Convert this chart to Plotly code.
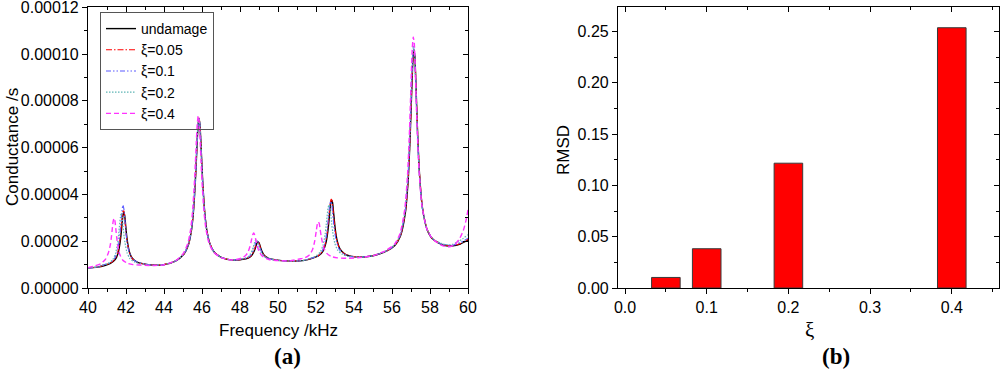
import plotly.graph_objects as go

# ---------------- data (conductance in micro-siemens, converted below) ----------------
UNIT = 1e-6

undamage = [
    (40.0, 8.6), (40.5, 8.9), (40.88, 9.6), (41.18, 10.5), (41.43, 12.1), (41.58, 14.8), (41.68, 19.0),
    (41.73, 22.2), (41.78, 26.4), (41.83, 30.5), (41.88, 32.6), (41.93, 31.0), (41.98, 26.9), (42.03, 22.7),
    (42.08, 19.5), (42.18, 15.4), (42.33, 12.7), (42.58, 11.1), (42.88, 10.4), (43.4, 9.8), (44.0, 10.0),
    (44.6, 11.5), (45.04, 14.4), (45.29, 18.6), (45.44, 24.4), (45.54, 31.7), (45.64, 44.0), (45.69, 52.3),
    (45.74, 61.4), (45.79, 69.0), (45.84, 72.5), (45.89, 70.0), (45.94, 62.4), (45.99, 53.3), (46.04, 45.0),
    (46.14, 32.7), (46.24, 25.4), (46.39, 19.6), (46.64, 15.4), (47.04, 13.0), (47.64, 11.9),
    (48.15, 12.3), (48.4, 12.7), (48.55, 13.4), (48.65, 14.3), (48.75, 15.8), (48.8, 16.9), (48.85, 18.2),
    (48.9, 19.3), (48.95, 19.8), (49.0, 19.3), (49.05, 18.2), (49.1, 16.9), (49.15, 15.8), (49.25, 14.3),
    (49.35, 13.4), (49.5, 12.7), (49.75, 12.2), (50.2, 11.7), (50.8, 11.5), (51.4, 11.8),
    (51.82, 12.8), (52.12, 13.7), (52.37, 15.8), (52.52, 19.2), (52.62, 24.0), (52.67, 27.7), (52.72, 31.9),
    (52.77, 35.8), (52.82, 37.6), (52.87, 36.6), (52.92, 32.7), (52.97, 28.5), (53.02, 24.8), (53.12, 20.0),
    (53.27, 16.6), (53.52, 14.5), (53.82, 13.6), (54.3, 13.2), (55.0, 13.8),
    (55.65, 15.5), (56.15, 18.2), (56.45, 22.3), (56.7, 32.0), (56.85, 46.0), (56.95, 63.7), (57.0, 75.2),
    (57.05, 87.2), (57.1, 97.1), (57.15, 101.5), (57.2, 99.1), (57.25, 89.2), (57.3, 77.2), (57.35, 65.7),
    (57.45, 48.5), (57.6, 34.4), (57.85, 24.9), (58.15, 20.8), (58.65, 18.5), (59.2, 18.0), (59.6, 18.8),
    (60.0, 20.5),
]

xi_005 = [
    (40.0, 8.6), (40.5, 8.9), (40.86, 9.9), (41.16, 10.6), (41.41, 12.3), (41.56, 15.1), (41.66, 19.4),
    (41.71, 22.8), (41.76, 27.1), (41.81, 31.4), (41.86, 33.5), (41.91, 31.7), (41.96, 27.6), (42.01, 23.3),
    (42.06, 19.9), (42.16, 15.7), (42.31, 12.8), (42.56, 11.1), (42.86, 10.4), (43.4, 9.8), (44.0, 10.0),
    (44.6, 11.5), (45.04, 14.4), (45.29, 18.6), (45.44, 24.4), (45.54, 31.8), (45.64, 44.2), (45.69, 52.5),
    (45.74, 61.6), (45.79, 69.2), (45.84, 72.7), (45.89, 70.1), (45.94, 62.5), (45.99, 53.4), (46.04, 45.0),
    (46.14, 32.7), (46.24, 25.4), (46.39, 19.6), (46.64, 15.4), (47.04, 13.0), (47.64, 11.9),
    (48.13, 12.3), (48.38, 12.8), (48.53, 13.4), (48.63, 14.3), (48.73, 15.9), (48.78, 17.0), (48.83, 18.4),
    (48.88, 19.5), (48.93, 20.0), (48.98, 19.5), (49.03, 18.4), (49.08, 17.0), (49.13, 15.9), (49.23, 14.3),
    (49.33, 13.4), (49.48, 12.8), (49.73, 12.2), (50.2, 11.7), (50.8, 11.5), (51.4, 11.8),
    (51.8, 12.8), (52.1, 13.7), (52.35, 15.8), (52.5, 19.3), (52.6, 24.2), (52.65, 28.0), (52.7, 32.3),
    (52.75, 36.3), (52.8, 38.0), (52.85, 37.1), (52.9, 33.2), (52.95, 28.9), (53.0, 25.1), (53.1, 20.2),
    (53.25, 16.7), (53.5, 14.6), (53.8, 13.7), (54.3, 13.2), (55.0, 13.8),
    (55.65, 15.5), (56.15, 18.3), (56.45, 22.5), (56.7, 32.3), (56.85, 46.5), (56.95, 64.0), (57.0, 75.6),
    (57.05, 87.7), (57.1, 97.6), (57.15, 102.0), (57.2, 99.6), (57.25, 89.6), (57.3, 77.5), (57.35, 66.0),
    (57.45, 48.7), (57.6, 34.5), (57.85, 25.0), (58.15, 20.9), (58.65, 18.6), (59.2, 18.1), (59.6, 19.0),
    (60.0, 20.8),
]

xi_01 = [
    (40.0, 8.6), (40.5, 8.9), (40.84, 9.9), (41.14, 10.7), (41.39, 12.5), (41.54, 15.6), (41.64, 20.2),
    (41.69, 23.9), (41.74, 28.6), (41.79, 33.2), (41.84, 35.5), (41.89, 33.7), (41.94, 29.1), (41.99, 24.4),
    (42.04, 20.7), (42.14, 16.1), (42.29, 13.0), (42.54, 11.2), (42.84, 10.5), (43.4, 9.8), (44.0, 10.0),
    (44.6, 11.5), (45.04, 14.4), (45.29, 18.7), (45.44, 24.5), (45.54, 31.9), (45.64, 44.3), (45.69, 52.6),
    (45.74, 61.6), (45.79, 69.2), (45.84, 72.6), (45.89, 70.0), (45.94, 62.3), (45.99, 53.2), (46.04, 44.9),
    (46.14, 32.6), (46.24, 25.3), (46.39, 19.6), (46.64, 15.4), (47.04, 13.0), (47.64, 11.9),
    (48.1, 12.3), (48.35, 12.8), (48.5, 13.5), (48.6, 14.4), (48.7, 16.1), (48.75, 17.2), (48.8, 18.6),
    (48.85, 19.8), (48.9, 20.3), (48.95, 19.8), (49.0, 18.6), (49.05, 17.2), (49.1, 16.1), (49.2, 14.4),
    (49.3, 13.5), (49.45, 12.8), (49.7, 12.2), (50.2, 11.7), (50.8, 11.5), (51.4, 11.8),
    (51.77, 12.8), (52.07, 13.6), (52.32, 15.7), (52.47, 19.1), (52.57, 23.7), (52.62, 27.4), (52.67, 31.5),
    (52.72, 35.4), (52.77, 37.0), (52.82, 36.2), (52.87, 32.4), (52.92, 28.3), (52.97, 24.7), (53.07, 19.9),
    (53.22, 16.6), (53.47, 14.5), (53.77, 13.6), (54.3, 13.2), (55.0, 13.8),
    (55.64, 15.5), (56.14, 18.3), (56.44, 22.6), (56.69, 32.5), (56.84, 46.8), (56.94, 64.4), (56.99, 76.0),
    (57.04, 88.2), (57.09, 98.1), (57.14, 102.5), (57.19, 100.1), (57.24, 90.0), (57.29, 77.9), (57.34, 66.3),
    (57.44, 48.9), (57.59, 34.6), (57.84, 25.1), (58.14, 21.0), (58.64, 18.7), (59.2, 18.3), (59.6, 19.4),
    (60.0, 21.3),
]

xi_02 = [
    (40.0, 8.6), (40.5, 9.0), (40.75, 9.8), (41.05, 10.5), (41.3, 12.1), (41.45, 14.8), (41.55, 18.8),
    (41.6, 22.0), (41.65, 26.0), (41.7, 30.0), (41.75, 32.0), (41.8, 30.3), (41.85, 26.2), (41.9, 22.0),
    (41.95, 19.2), (42.05, 15.2), (42.2, 12.6), (42.45, 11.1), (42.75, 10.4), (43.4, 9.8), (44.0, 10.0),
    (44.6, 11.5), (45.03, 14.5), (45.28, 18.8), (45.43, 24.6), (45.53, 32.0), (45.63, 44.4), (45.68, 52.7),
    (45.73, 61.7), (45.78, 69.3), (45.83, 72.6), (45.88, 70.0), (45.93, 62.3), (45.98, 53.1), (46.03, 44.8),
    (46.13, 32.5), (46.23, 25.2), (46.38, 19.5), (46.63, 15.3), (47.03, 13.0), (47.63, 11.9),
    (48.05, 12.3), (48.3, 12.9), (48.45, 13.6), (48.55, 14.6), (48.65, 16.3), (48.7, 17.6), (48.75, 19.0),
    (48.8, 20.3), (48.85, 20.8), (48.9, 20.3), (48.95, 19.0), (49.0, 17.6), (49.05, 16.3), (49.15, 14.6),
    (49.25, 13.6), (49.4, 12.9), (49.65, 12.2), (50.2, 11.7), (50.8, 11.5), (51.4, 11.8),
    (51.68, 12.7), (51.98, 13.5), (52.23, 15.5), (52.38, 18.6), (52.48, 23.0), (52.53, 26.4), (52.58, 30.3),
    (52.63, 34.0), (52.68, 35.5), (52.73, 34.7), (52.78, 31.1), (52.83, 27.2), (52.88, 23.9), (52.98, 19.4),
    (53.13, 16.3), (53.38, 14.4), (53.68, 13.5), (54.3, 13.2), (55.0, 13.8),
    (55.63, 15.6), (56.13, 18.4), (56.43, 22.7), (56.68, 32.8), (56.83, 47.2), (56.93, 65.0), (56.98, 76.7),
    (57.03, 89.0), (57.08, 99.0), (57.13, 103.5), (57.18, 101.1), (57.23, 90.9), (57.28, 78.7), (57.33, 67.0),
    (57.43, 49.4), (57.58, 35.0), (57.83, 25.4), (58.13, 21.2), (58.63, 18.9), (59.1, 18.5), (59.5, 19.8),
    (60.0, 22.8),
]

xi_04 = [
    (40.0, 8.7), (40.37, 9.5), (40.67, 10.4), (40.92, 12.3), (41.07, 15.0), (41.17, 18.2), (41.22, 21.0),
    (41.27, 24.6), (41.32, 28.3), (41.37, 29.8), (41.42, 28.5), (41.47, 24.8), (41.52, 21.0), (41.57, 18.0),
    (41.67, 14.4), (41.82, 12.0), (42.07, 10.6), (42.37, 10.0), (43.0, 9.7), (43.5, 9.6), (44.0, 9.9),
    (44.6, 11.6), (45.0, 14.6), (45.25, 19.0), (45.4, 25.0), (45.5, 32.5), (45.6, 45.0), (45.65, 53.3),
    (45.7, 62.3), (45.75, 70.0), (45.8, 73.5), (45.85, 71.0), (45.9, 63.3), (45.95, 54.0), (46.0, 45.5),
    (46.1, 33.0), (46.2, 25.6), (46.35, 19.7), (46.6, 15.4), (47.0, 13.0), (47.5, 12.0),
    (47.92, 12.4), (48.17, 13.1), (48.32, 14.1), (48.42, 15.3), (48.52, 17.6), (48.57, 19.3), (48.62, 21.1),
    (48.67, 22.8), (48.72, 23.5), (48.77, 22.8), (48.82, 21.1), (48.87, 19.3), (48.92, 17.6), (49.02, 15.3),
    (49.12, 14.1), (49.27, 13.0), (49.52, 12.2), (50.0, 11.7), (50.6, 11.6),
    (51.12, 12.4), (51.42, 12.9), (51.67, 14.3), (51.82, 16.5), (51.92, 19.6), (51.97, 22.0), (52.02, 24.7),
    (52.07, 27.3), (52.12, 28.3), (52.17, 27.6), (52.22, 25.0), (52.27, 22.3), (52.32, 20.1), (52.42, 17.0),
    (52.57, 14.8), (52.82, 13.4), (53.12, 12.9), (53.6, 12.7), (54.2, 12.9), (55.0, 13.8),
    (55.62, 15.8), (56.12, 18.6), (56.42, 23.2), (56.67, 33.6), (56.82, 48.7), (56.92, 67.1), (56.97, 79.4),
    (57.02, 92.3), (57.07, 102.8), (57.12, 107.3), (57.17, 104.8), (57.22, 94.3), (57.27, 81.4), (57.32, 69.1),
    (57.42, 50.7), (57.57, 35.6), (57.82, 25.5), (58.12, 21.1), (58.62, 18.2), (59.0, 17.6), (59.3, 18.6),
    (59.55, 21.0), (59.75, 24.5), (59.9, 29.0), (60.0, 33.5),
]

series_names = ["undamage", "ξ=0.05", "ξ=0.1", "ξ=0.2", "ξ=0.4"]
series_data = [undamage, xi_005, xi_01, xi_02, xi_04]

bar_xi = [0.05, 0.1, 0.2, 0.4]
bar_rmsd = [0.0103, 0.0383, 0.1217, 0.2538]

y1_ticks = [0, 0.00002, 0.00004, 0.00006, 0.00008, 0.0001, 0.00012]
y1_labels = ["0.00000", "0.00002", "0.00004", "0.00006", "0.00008", "0.00010", "0.00012"]
y1_minor = [0.00001, 0.00003, 0.00005, 0.00007, 0.00009, 0.00011]

# ---------------- styling ----------------
styles = [
    dict(color="#000000", width=1.4, dash="solid"),
    dict(color="#ff0000", width=1.1, dash="6px,2px,1.5px,2px"),
    dict(color="#5a5aff", width=1.1, dash="5px,2px,1.5px,2px,1.5px,2px"),
    dict(color="#5fb5b5", width=1.2, dash="1.5px,1.5px"),
    dict(color="#ff33ff", width=1.4, dash="5px,3px"),
]

FONT = "Arial, Liberation Sans, sans-serif"
SERIF = "Times New Roman, Liberation Serif, serif"

fig = go.Figure()
for name, data, st in zip(series_names, series_data, styles):
    fig.add_trace(go.Scatter(
        x=[p[0] for p in data], y=[p[1] * UNIT for p in data],
        mode="lines", name=name, line=dict(shape="spline", smoothing=0.6, **st),
        xaxis="x", yaxis="y",
    ))

fig.add_trace(go.Bar(
    x=bar_xi, y=bar_rmsd, width=0.035, xaxis="x2", yaxis="y2",
    marker=dict(color="#ff0000", line=dict(color="#3a3a3a", width=1)),
    showlegend=False,
))
# empty carriers for the inward mirrored tick axes
fig.add_trace(go.Scatter(x=[], y=[], xaxis="x3", yaxis="y3", showlegend=False))
fig.add_trace(go.Scatter(x=[], y=[], xaxis="x4", yaxis="y4", showlegend=False))

ydom = [1 - 288 / 373, 1 - 7 / 373]
xdom1 = [0.088, 0.468]
xdom2 = [0.618, 0.999]

common = dict(showgrid=False, zeroline=False, color="black", automargin=False,
              ticklabeloverflow="allow",
              tickfont=dict(family=FONT, size=16, color="black"))

def main_axis(**kw):
    d = dict(showline=True, linecolor="black", linewidth=1.2, mirror=True,
             ticks="outside", ticklen=5, tickwidth=1, tickcolor="black")
    d.update(common)
    d.update(kw)
    return d

def mirror_axis(**kw):
    d = dict(showline=False, ticks="inside", ticklen=5, tickwidth=1, tickcolor="black",
             showticklabels=False, showgrid=False, zeroline=False, automargin=False)
    d.update(kw)
    return d

X1R = [40, 60]
Y1R = [0, 0.0001201]
X2R = [-0.0086, 0.4578]
Y2R = [0, 0.274]

fig.update_layout(
    width=1000, height=373, template="none",
    paper_bgcolor="white", plot_bgcolor="white",
    margin=dict(l=0, r=0, t=0, b=0, autoexpand=False),
    showlegend=True,
    legend=dict(x=0.1, y=1 - 12 / 373, xanchor="left", yanchor="top",
                bordercolor="#555555", borderwidth=1, bgcolor="rgba(255,255,255,0)",
                font=dict(family=FONT, size=14, color="black"),
                tracegroupgap=0, itemwidth=30),
    xaxis=main_axis(domain=xdom1, anchor="y", range=X1R, tick0=40, dtick=2,
                    minor=dict(ticks="outside", ticklen=3, dtick=1, tickcolor="black")),
    yaxis=main_axis(domain=ydom, anchor="x", range=Y1R, tickmode="array",
                    tickvals=y1_ticks, ticktext=y1_labels,
                    minor=dict(ticks="outside", ticklen=3, tickcolor="black", tickvals=y1_minor)),
    xaxis2=main_axis(domain=xdom2, anchor="y2", range=X2R, tick0=0, dtick=0.1, tickformat=".1f",
                     minor=dict(ticks="outside", ticklen=3, dtick=0.05, tickcolor="black")),
    yaxis2=main_axis(domain=ydom, anchor="x2", range=Y2R, tick0=0, dtick=0.05, tickformat=".2f",
                     minor=dict(ticks="outside", ticklen=3, dtick=0.025, tickcolor="black")),
    xaxis3=mirror_axis(overlaying="x", side="top", anchor="y3", range=X1R, tick0=40, dtick=2,
                       minor=dict(ticks="inside", ticklen=3, dtick=1, tickcolor="black")),
    yaxis3=mirror_axis(overlaying="y", side="right", anchor="x3", range=Y1R, tickmode="array",
                       tickvals=y1_ticks,
                       minor=dict(ticks="inside", ticklen=3, tickcolor="black", tickvals=y1_minor)),
    xaxis4=mirror_axis(overlaying="x2", side="top", anchor="y4", range=X2R, tick0=0, dtick=0.1,
                       minor=dict(ticks="inside", ticklen=3, dtick=0.05, tickcolor="black")),
    yaxis4=mirror_axis(overlaying="y2", side="right", anchor="x4", range=Y2R, tick0=0, dtick=0.05,
                       minor=dict(ticks="inside", ticklen=3, dtick=0.025, tickcolor="black")),
)

ann = [
    dict(text="Frequency /kHz", x=0.278, y=1 - 330 / 373, font=dict(family=FONT, size=17)),
    dict(text="<b>(a)</b>", x=0.2875, y=1 - 356 / 373, font=dict(family=SERIF, size=23)),
    dict(text="ξ", x=0.809, y=1 - 330 / 373, font=dict(family=SERIF, size=21)),
    dict(text="<b>(b)</b>", x=0.836, y=1 - 356 / 373, font=dict(family=SERIF, size=23)),
    dict(text="Conductance /s", x=0.012, y=1 - 147 / 373, textangle=-90, font=dict(family=FONT, size=17)),
    dict(text="RMSD", x=0.563, y=1 - 150 / 373, textangle=-90, font=dict(family=FONT, size=17)),
]
for a in ann:
    a["font"]["color"] = "black"
    fig.add_annotation(xref="paper", yref="paper", showarrow=False,
                       xanchor="center", yanchor="middle", **a)

fig.write_html("out.html", config={"displayModeBar": False},
               post_script="document.body.style.margin='0';document.body.style.overflow='hidden';")
